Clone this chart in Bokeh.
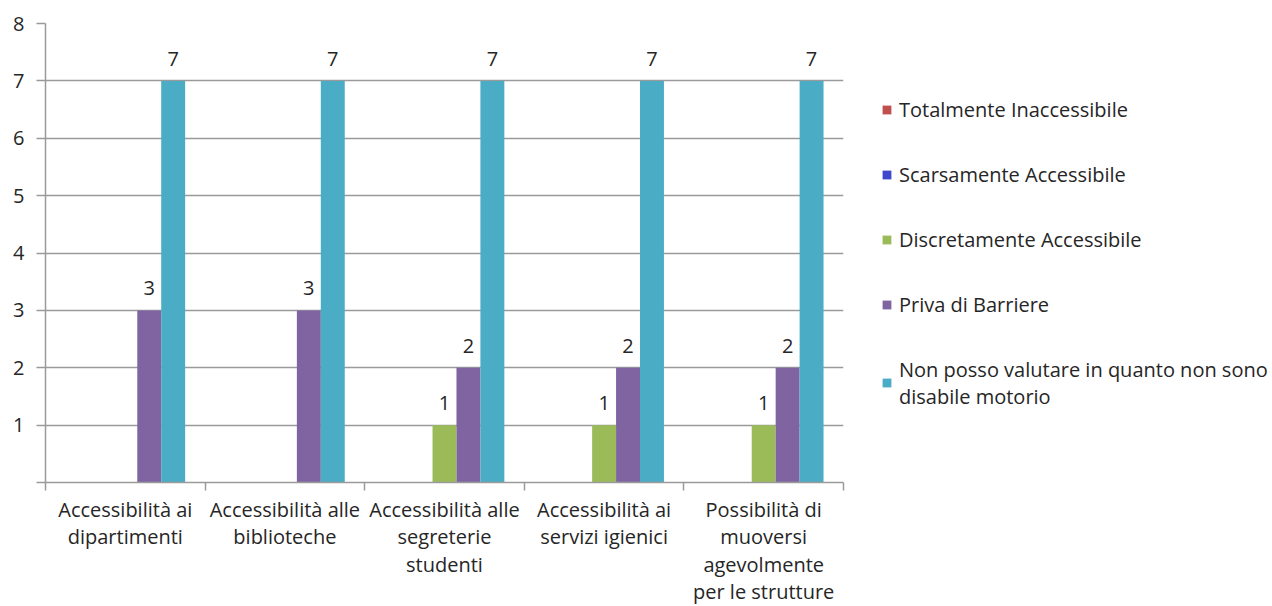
from bokeh.plotting import figure
from bokeh.models import ColumnDataSource, FixedTicker, Legend, LegendItem, Range1d
from bokeh.core.properties import value
from bokeh.embed import file_html
from bokeh.resources import INLINE

categories = [
    "Accessibilità ai\ndipartimenti",
    "Accessibilità alle\nbiblioteche",
    "Accessibilità alle\nsegreterie\nstudenti",
    "Accessibilità ai\nservizi igienici",
    "Possibilità di\nmuoversi\nagevolmente\nper le strutture",
]
series_names = [
    "Totalmente Inaccessibile",
    "Scarsamente Accessibile",
    "Discretamente Accessibile",
    "Priva di Barriere",
    "Non posso valutare in quanto non sono\ndisabile motorio",
]
totalmente = [0, 0, 0, 0, 0]
scarsamente = [0, 0, 0, 0, 0]
discretamente = [0, 0, 1, 1, 1]
priva = [3, 3, 2, 2, 2]
non_posso = [7, 7, 7, 7, 7]
y_ticks = [0, 1, 2, 3, 4, 5, 6, 7, 8]

series_values = [totalmente, scarsamente, discretamente, priva, non_posso]
colors = ["#C0504D", "#3F48CC", "#9BBB59", "#8064A2", "#4BACC6"]

FONT = "Open Sans"
FS = "20px"
TXT = "#262626"
GRID = "#9a9a9a"

p = figure(
    frame_width=798, frame_height=459,
    x_range=Range1d(0, len(categories)), y_range=Range1d(0, 8),
    output_backend="svg", toolbar_location=None,
    min_border_left=45, min_border_top=23, min_border_bottom=4,
)
p.outline_line_color = None
p.background_fill_color = "white"

bw = 0.15
offsets = [-0.3, -0.15, 0.0, 0.15, 0.3]
items = []
lx, ly, lt = [], [], []
for k, (name, vals, col) in enumerate(zip(series_names, series_values, colors)):
    xs = [i + 0.5 + offsets[k] for i in range(len(categories))]
    src = ColumnDataSource(dict(x=xs, top=vals))
    r = p.vbar(x="x", top="top", bottom=0, width=bw, source=src,
               fill_color=col, line_color=None)
    items.append(LegendItem(label=name, renderers=[r]))
    for x, v in zip(xs, vals):
        if v:
            lx.append(x)
            ly.append(v)
            lt.append(str(v))

lab_src = ColumnDataSource(dict(x=lx, y=ly, t=lt))
p.text(x="x", y="y", text="t", source=lab_src, text_align="center",
       text_baseline="bottom", y_offset=-15, text_font=value(FONT),
       text_font_size=FS, text_color=TXT)

# axes
p.yaxis.ticker = FixedTicker(ticks=y_ticks)
p.yaxis.major_label_overrides = {0: ""}
p.yaxis.axis_line_color = GRID
p.yaxis.axis_line_width = 1.5
p.yaxis.major_tick_line_color = GRID
p.yaxis.major_tick_line_width = 1.5
p.yaxis.major_tick_out = 9
p.yaxis.major_tick_in = 0
p.yaxis.minor_tick_line_color = None
p.yaxis.major_label_text_font = FONT
p.yaxis.major_label_text_font_size = FS
p.yaxis.major_label_text_color = TXT
p.yaxis.major_label_standoff = 12

centers = [i + 0.5 for i in range(len(categories))]
p.xaxis.ticker = FixedTicker(ticks=centers, minor_ticks=list(range(len(categories) + 1)))
p.xaxis.major_label_overrides = {c: lab for c, lab in zip(centers, categories)}
p.xaxis.axis_line_color = GRID
p.xaxis.axis_line_width = 1.5
p.xaxis.major_tick_line_color = None
p.xaxis.major_tick_out = 0
p.xaxis.major_tick_in = 0
p.xaxis.minor_tick_line_color = GRID
p.xaxis.minor_tick_line_width = 1.5
p.xaxis.minor_tick_out = 8
p.xaxis.minor_tick_in = 0
p.xaxis.major_label_text_font = FONT
p.xaxis.major_label_text_font_size = FS
p.xaxis.major_label_text_color = TXT
p.xaxis.major_label_text_line_height = 1.02
p.xaxis.major_label_standoff = 5

p.xgrid.grid_line_color = None
p.ygrid.ticker = FixedTicker(ticks=y_ticks)
p.ygrid.grid_line_color = GRID
p.ygrid.grid_line_width = 1.5

legend = Legend(items=items, location="left", orientation="vertical")
legend.border_line_color = None
legend.background_fill_alpha = 0
legend.glyph_width = 11
legend.glyph_height = 11
legend.label_standoff = 7
legend.label_text_font = FONT
legend.label_text_font_size = FS
legend.label_text_color = TXT
legend.label_text_line_height = 1.5
legend.spacing = 38
legend.padding = 0
legend.margin = 38
p.add_layout(legend, "right")

open("out.html", "w").write(file_html(p, INLINE))
